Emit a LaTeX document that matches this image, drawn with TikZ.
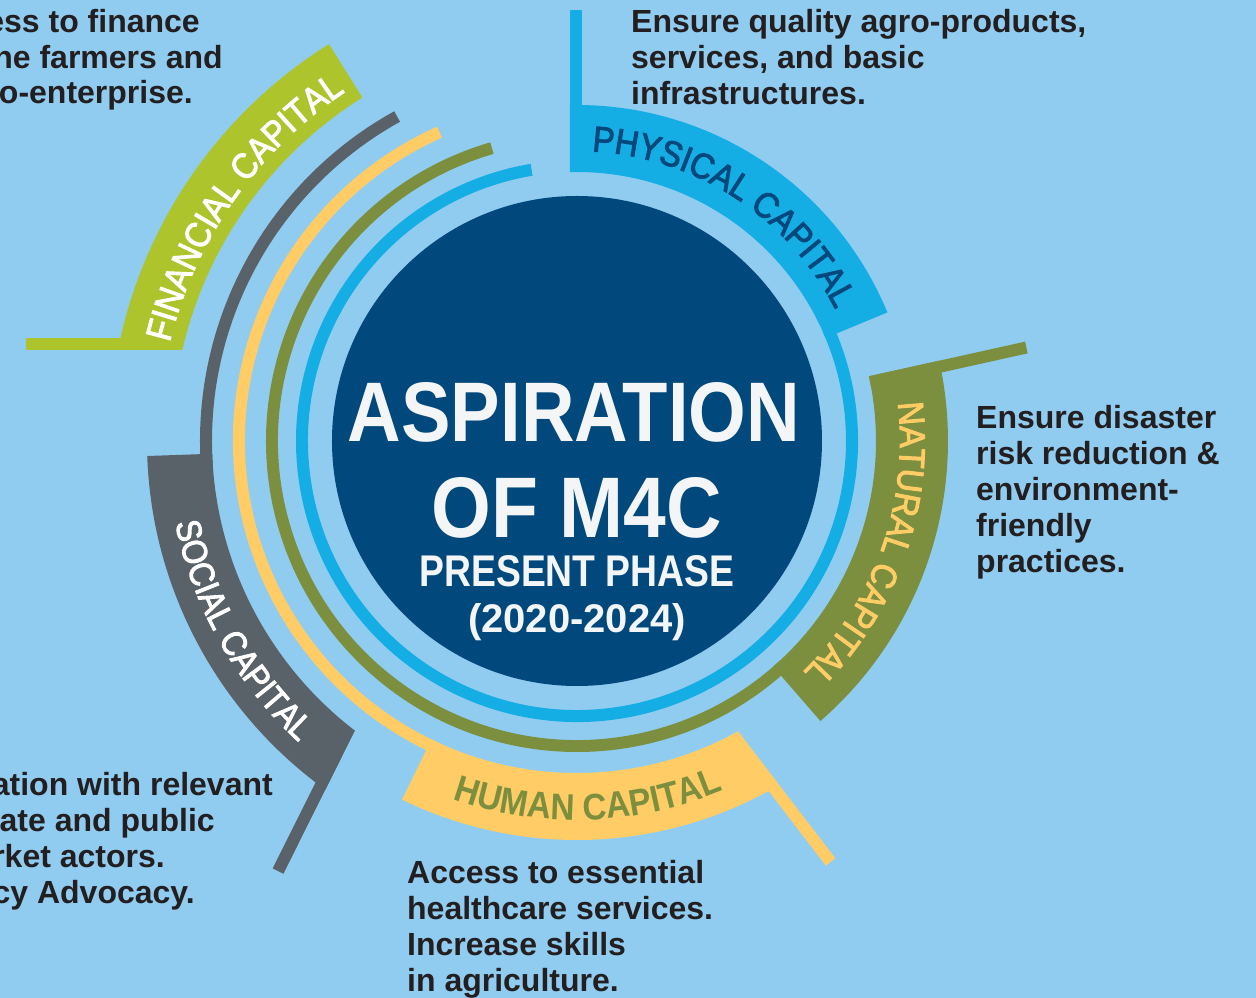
\documentclass[tikz,border=0pt]{standalone}
\usepackage{graphicx}
\usepackage{fontspec}
\setmainfont{Liberation Sans}
\newfontfamily\capfont{Liberation Sans}[FakeStretch=0.9, FakeBold=2.6]
\newfontfamily\capfontb{Liberation Sans}[FakeStretch=0.9]
\usetikzlibrary{decorations.text}

\definecolor{bgblue}{RGB}{144,204,240}
\definecolor{navy}{RGB}{1,73,124}
\definecolor{skyband}{RGB}{20,174,228}
\definecolor{olive}{RGB}{123,143,62}
\definecolor{sunny}{RGB}{255,204,102}
\definecolor{slate}{RGB}{89,97,105}
\definecolor{lime}{RGB}{174,196,44}
\definecolor{ink}{RGB}{35,31,32}
\definecolor{snow}{RGB}{243,245,247}

\tikzset{
  body/.style={anchor=base west, inner sep=0pt, text=ink,
    font=\fontsize{32}{36}\selectfont\bfseries},
  bodyR/.style={body, anchor=base east},
  title/.style={anchor=base, inner sep=0pt, text=snow, font=\bfseries},
}

\begin{document}
\begin{tikzpicture}[x=1pt,y=1pt]
% canvas (centre of the wheel at the origin)
\fill[bgblue] (-577,-557) rectangle (679,441);
\useasboundingbox (-577,-557) rectangle (679,441);

% central disc
\node[circle, fill=navy, minimum size=490pt, inner sep=0pt] (core) at (0,0) {};

% thin rings running clockwise from each band
\fill[skyband] (24:281) arc[start angle=24, end angle=-260.5, radius=281]
  -- (-260.5:269) arc[start angle=-260.5, end angle=24, radius=269] -- cycle;
\fill[olive] (-47:311) arc[start angle=-47, end angle=-253.8, radius=311]
  -- (-253.8:299) arc[start angle=-253.8, end angle=-47, radius=299] -- cycle;
\fill[sunny] (-114:344) arc[start angle=-114, end angle=-246, radius=344]
  -- (-246:332) arc[start angle=-246, end angle=-114, radius=332] -- cycle;
\fill[slate] (184:377) arc[start angle=184, end angle=119, radius=377]
  -- (119:365) arc[start angle=119, end angle=184, radius=365] -- cycle;

% corners where each band meets its leader line
\coordinate (physP) at (-7,268.91);
\coordinate (natP) at (12.5:299);
\coordinate (humP) at (-61:332);
\coordinate (socP) at (232.5:365);
\coordinate (finP) at (-394.64,91);

% bands
\fill[skyband] (physP) -- (-7,335.93) arc[start angle=91.19, end angle=22.5, radius=336]
  -- (22.5:269) arc[start angle=22.5, end angle=91.49, radius=269] -- cycle;
\fill[olive] (natP) -- (12.5:371) arc[start angle=12.5, end angle=-49, radius=371]
  -- (-49:299) arc[start angle=-49, end angle=12.5, radius=299] -- cycle;
\fill[sunny] (humP) -- (202.11,-344.0) arc[start angle=-59.56, end angle=-116, radius=399]
  -- (-116:332) arc[start angle=-116, end angle=-61, radius=332] -- cycle;
\fill[slate] (socP) -- (-251.66,-348.66) arc[start angle=234.18, end angle=182, radius=430]
  -- (182:365) arc[start angle=182, end angle=232.5, radius=365] -- cycle;
\fill[lime] (finP) -- (-459.07,91) arc[start angle=168.79, end angle=122, radius=468]
  -- (122:405) arc[start angle=122, end angle=167.02, radius=405] -- cycle;

% leader lines
\fill[skyband] (physP) -- ++(90:162) -- ++(0:12) -- ++(-90:162) -- cycle;
\fill[olive] (natP) -- ++(12.5:160) -- ++(-77.5:12) -- ++(192.5:160) -- cycle;
\fill[sunny] (humP) -- ++(-52.5:160) -- ++(-142.5:12) -- ++(127.5:160) -- cycle;
\fill[slate] (socP) -- ++(-116.5:160) -- ++(153.5:12) -- ++(63.5:160) -- cycle;
\fill[lime] (finP) -- ++(180:156) -- ++(90:12) -- ++(0:156) -- cycle;

% band labels
\path[decorate, decoration={text along path, text align=center,
  text={|\capfont\fontsize{36}{36}\selectfont\color{navy}|PHYSICAL CAPITAL}}]
  (92:290) arc[start angle=92, end angle=22, radius=290];
\path[decorate, decoration={text along path, text align=center,
  text={|\capfont\fontsize{36}{36}\selectfont\color{sunny}|NATURAL CAPITAL}}]
  (13:323) arc[start angle=13, end angle=-51.8, radius=323];
\path[decorate, decoration={text along path, text align=center,
  text={|\capfontb\fontsize{37}{37}\selectfont\bfseries\color{olive}|HUMAN CAPITAL}}]
  (-120:379) arc[start angle=-120, end angle=-56.4, radius=379];
\path[decorate, decoration={text along path, text align=center,
  text={|\capfont\fontsize{35}{35}\selectfont\color{white}|SOCIAL CAPITAL}}]
  (180:410) arc[start angle=180, end angle=238.8, radius=410];
\path[decorate, decoration={text along path, text align=center,
  text={|\capfont\fontsize{36}{36}\selectfont\color{white}|FINANCIAL CAPITAL}}]
  (172:419) arc[start angle=172, end angle=118, radius=419];

% centre title
\node[title] (t1) at (-3,-1) {\resizebox{452pt}{59pt}{ASPIRATION}};
\node[title] (t2) at (0,-97) {\resizebox{290pt}{60pt}{OF M4C}};
\node[title] (t3) at (0,-146) {\resizebox{315pt}{31pt}{PRESENT PHASE}};
\node[title, font=\fontsize{40}{40}\selectfont\bfseries] (t4) at (0,-192) {(2020-2024)};

% physical capital note
\node[body] (ph1) at (54,408) {Ensure quality agro-products,};
\node[body] (ph2) at (54,372) {services, and basic};
\node[body] (ph3) at (54,336) {infrastructures.};

% natural capital note
\node[body] (na1) at (399,12) {Ensure disaster};
\node[body] (na2) at (399,-24) {risk reduction \&};
\node[body] (na3) at (399,-60) {environment-};
\node[body] (na4) at (399,-96) {friendly};
\node[body] (na5) at (399,-132) {practices.};

% human capital note
\node[body] (hu1) at (-170,-442) {Access to essential};
\node[body] (hu2) at (-170,-478) {healthcare services.};
\node[body] (hu3) at (-170,-514) {Increase skills};
\node[body] (hu4) at (-170,-550) {in agriculture.};

% financial capital note
\node[bodyR] (fi1) at (-377,408) {ess to finance};
\node[bodyR] (fi2) at (-354,372) {he farmers and};
\node[bodyR] (fi3) at (-384,337) {o-enterprise.};

% social capital note
\node[bodyR] (so1) at (-304,-354) {ation with relevant};
\node[bodyR] (so2) at (-362,-390) {ate and public};
\node[bodyR] (so3) at (-412,-426) {rket actors.};
\node[bodyR] (so4) at (-382,-462) {cy Advocacy.};
\end{tikzpicture}
\end{document}
